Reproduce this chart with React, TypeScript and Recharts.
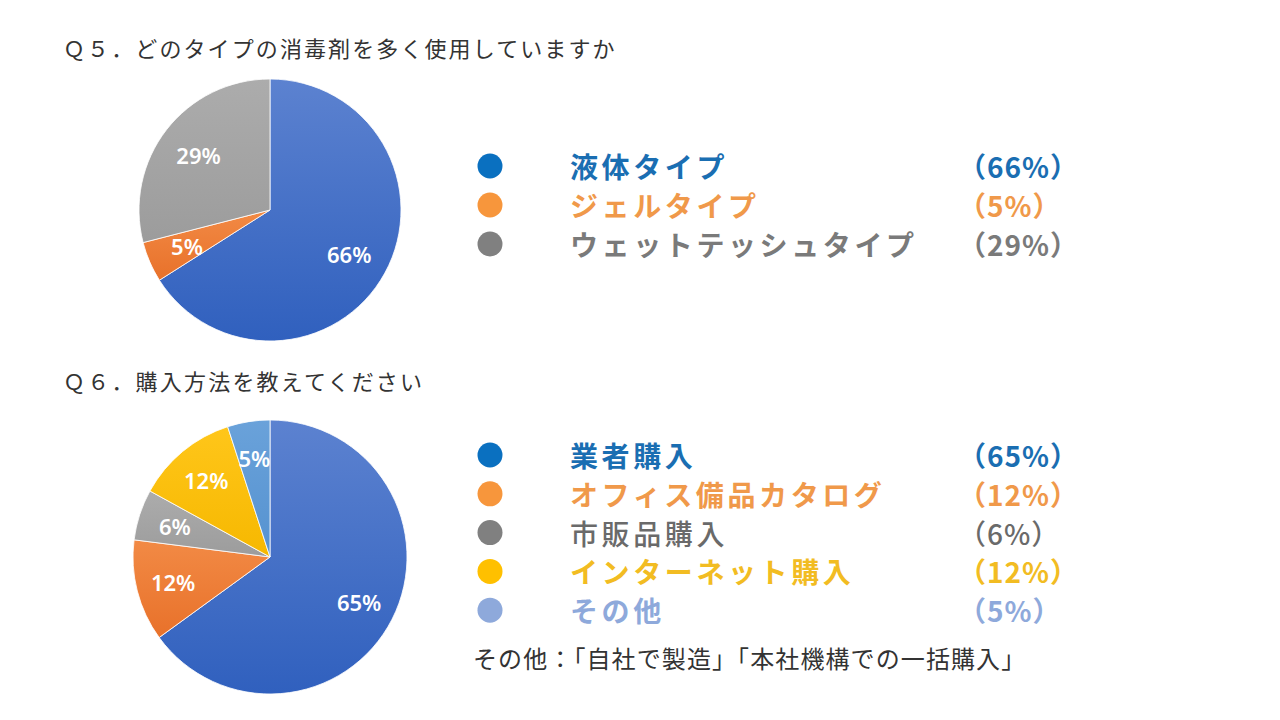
import React from "react";
import { PieChart, Pie, Cell } from "recharts";

const q5Title = "Ｑ５．どのタイプの消毒剤を多く使用していますか";
const q5Names = ["液体タイプ", "ジェルタイプ", "ウェットテッシュタイプ"];
const q5Values = [66, 5, 29];
const q5SliceColors = ["url(#gBlue)", "url(#gOrange)", "url(#gGray)"];
const q5LegendDot = ["#0A70C0", "#F7963C", "#808080"];
const q5LegendText = ["#1A6EB2", "#F0994A", "#7A7A7A"];
const q5Bold = [true, true, true];

const q6Title = "Ｑ６．購入方法を教えてください";
const q6Names = ["業者購入", "オフィス備品カタログ", "市販品購入", "インターネット購入", "その他"];
const q6Values = [65, 12, 6, 12, 5];
const q6SliceColors = ["url(#gBlue)", "url(#gOrange)", "url(#gGray)", "url(#gYellow)", "url(#gLight)"];
const q6LegendDot = ["#0A70C0", "#F7963C", "#808080", "#FFC000", "#8EA9DB"];
const q6LegendText = ["#1A6EB2", "#F0994A", "#6A6A6A", "#F2BC22", "#8EA9DB"];
const q6Bold = [true, true, false, true, true];
const footnote = "その他：「自社で製造」「本社機構での一括購入」";

const q5Data = q5Names.map((name, i) => ({ name, value: q5Values[i] }));
const q6Data = q6Names.map((name, i) => ({ name, value: q6Values[i] }));

const RADIAN = Math.PI / 180;
const FONT = "'Noto Sans CJK JP', 'Noto Sans', sans-serif";

const makeLabel = (factor: number) => (props: any) => {
  const { cx, cy, midAngle, outerRadius, value } = props;
  const r = outerRadius * factor;
  const x = cx + r * Math.cos(-midAngle * RADIAN);
  const y = cy + r * Math.sin(-midAngle * RADIAN);
  return (
    <text
      x={x}
      y={y}
      fill="#ffffff"
      textAnchor="middle"
      dominantBaseline="central"
      fontFamily="'Noto Sans', 'Liberation Sans', sans-serif"
      fontSize={22}
      fontWeight={600}
    >
      {value + "%"}
    </text>
  );
};

const Legend = ({ names, values, dots, colors, bold, top, step }: any) => (
  <>
    {names.map((n: string, i: number) => {
      const y = top + i * step;
      return (
        <g key={n}>
          <circle cx={490} cy={y} r={12.5} fill={dots[i]} />
          <text
            x={570}
            y={y}
            dominantBaseline="central"
            fill={colors[i]}
            fontFamily={FONT}
            fontSize={28}
            fontWeight={bold[i] ? 700 : 500}
            letterSpacing={3.6}
          >
            {n}
          </text>
          <text
            x={958}
            y={y}
            dominantBaseline="central"
            fill={colors[i]}
            fontFamily={FONT}
            fontSize={28}
            fontWeight={bold[i] ? 700 : 500}
            letterSpacing={1}
          >
            {"（" + values[i] + "%）"}
          </text>
        </g>
      );
    })}
  </>
);

export default function App() {
  return (
    <div style={{ position: "fixed", left: 0, top: 0, width: 1280, height: 720, background: "#fff" }}>
      <div style={{ position: "absolute", left: 0, top: 0 }}>
        <PieChart width={1280} height={720} margin={{ top: 0, right: 0, bottom: 0, left: 0 }}>
          <defs>
            <linearGradient id="gBlue" x1="0" y1="0" x2="0" y2="1">
              <stop offset="0%" stopColor="#5C82D0" />
              <stop offset="100%" stopColor="#3060BE" />
            </linearGradient>
            <linearGradient id="gOrange" x1="0" y1="0" x2="0" y2="1">
              <stop offset="0%" stopColor="#F28A45" />
              <stop offset="100%" stopColor="#E8712A" />
            </linearGradient>
            <linearGradient id="gGray" x1="0" y1="0" x2="0" y2="1">
              <stop offset="0%" stopColor="#ACACAC" />
              <stop offset="100%" stopColor="#9C9C9C" />
            </linearGradient>
            <linearGradient id="gYellow" x1="0" y1="0" x2="0" y2="1">
              <stop offset="0%" stopColor="#FFC61A" />
              <stop offset="100%" stopColor="#F6B800" />
            </linearGradient>
            <linearGradient id="gLight" x1="0" y1="0" x2="0" y2="1">
              <stop offset="0%" stopColor="#6AA2DA" />
              <stop offset="100%" stopColor="#5592D0" />
            </linearGradient>
          </defs>
          <Pie
            data={q5Data}
            dataKey="value"
            cx={270}
            cy={210}
            outerRadius={131}
            startAngle={90}
            endAngle={-270}
            stroke="#ffffff"
            strokeWidth={0.8}
            labelLine={false}
            label={makeLabel(0.69)}
            isAnimationActive={false}
          >
            {q5Data.map((d, i) => (
              <Cell key={d.name} fill={q5SliceColors[i]} />
            ))}
          </Pie>
          <Pie
            data={q6Data}
            dataKey="value"
            cx={270}
            cy={557}
            outerRadius={137}
            startAngle={90}
            endAngle={-270}
            stroke="#ffffff"
            strokeWidth={0.8}
            labelLine={false}
            label={makeLabel(0.73)}
            isAnimationActive={false}
          >
            {q6Data.map((d, i) => (
              <Cell key={d.name} fill={q6SliceColors[i]} />
            ))}
          </Pie>
        </PieChart>
      </div>
      <svg width={1280} height={720} style={{ position: "absolute", left: 0, top: 0, pointerEvents: "none" }}>
        <text x={63} y={47} dominantBaseline="central" fill="#333" fontFamily={FONT} fontSize={22} letterSpacing={2.1}>
          {q5Title}
        </text>
        <text x={63} y={380} dominantBaseline="central" fill="#333" fontFamily={FONT} fontSize={22} letterSpacing={2.2}>
          {q6Title}
        </text>
        <Legend names={q5Names} values={q5Values} dots={q5LegendDot} colors={q5LegendText} bold={q5Bold} top={166} step={39} />
        <Legend names={q6Names} values={q6Values} dots={q6LegendDot} colors={q6LegendText} bold={q6Bold} top={455} step={38.8} />
        <text x={473} y={657} dominantBaseline="central" fill="#333" fontFamily={FONT} fontSize={24} letterSpacing={1.1}>
          {footnote}
        </text>
      </svg>
    </div>
  );
}
